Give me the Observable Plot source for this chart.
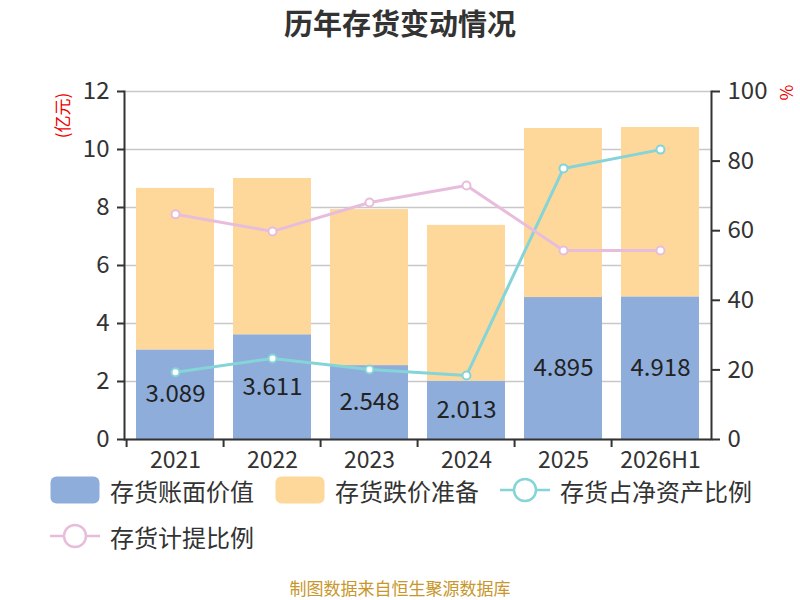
<!DOCTYPE html>
<html><head><meta charset="utf-8">
<script src="https://cdn.jsdelivr.net/npm/d3@7"></script>
<script src="https://cdn.jsdelivr.net/npm/@observablehq/plot@0.6"></script>
<style>
body{margin:0;width:800px;height:600px;background:#fff;font-family:"Noto Sans CJK SC","Noto Sans",sans-serif;overflow:hidden}
#title{height:50px;line-height:44px;text-align:center;font-size:29px;font-weight:bold;color:#333}
#chart svg{overflow:visible;display:block}
#legend{display:flex;flex-wrap:wrap;width:750px;padding-left:50px;box-sizing:content-box}
.item{display:flex;align-items:center;height:46px;margin-right:21px;font-size:24px;color:#333}
.item span{margin-left:10px}
#caption{text-align:center;font-size:17px;line-height:22px;color:#c8962a;margin-top:18px}
</style></head>
<body>
<div id="title">历年存货变动情况</div>
<div id="chart"></div>
<div id="legend"></div>
<div id="caption">制图数据来自恒生聚源数据库</div>
<script>
const years = ["2021","2022","2023","2024","2025","2026H1"];
const bookValue = [3.089,3.611,2.548,2.013,4.895,4.918];
const provision = [5.57,5.39,5.38,5.37,5.83,5.84];
const shareOfNetAssets = [19.3,23.3,20.1,18.4,77.9,83.3];
const provisionRatio = [64.7,59.8,68.1,73.0,54.3,54.3];
const leftTicks = [0,2,4,6,8,10,12];
const rightTicks = [0,20,40,60,80,100];
const seriesNames = ["存货账面价值","存货跌价准备","存货占净资产比例","存货计提比例"];
const colors = ["#8eaddb","#fed89a","#84d4d8","#e8bddc"];

const table = years.map((y,i)=>({year:y, book:bookValue[i], prov:provision[i], share:shareOfNetAssets[i], ratio:provisionRatio[i]}));
const W = 800, H = 417, mL = 124, mR = 89, mT = 41, mB = 28;
const step = (W - mL - mR) / years.length;
const pct = v => v * 12 / 100;
const font = "Noto Sans CJK SC";

const chart = Plot.plot({
  width: W, height: H,
  marginLeft: mL, marginRight: mR, marginTop: mT, marginBottom: mB,
  style: {fontFamily: font, fontSize: "22px", color: "#333", background: "#fff"},
  x: {domain: years, type: "band", paddingInner: 0.2, paddingOuter: 0.1, axis: null, label: null},
  y: {domain: [0, 12], axis: null, label: null},
  marks: [
    Plot.gridY(leftTicks, {stroke: "#c8c8c8", strokeOpacity: 1, strokeWidth: 1.5}),
    Plot.barY(table, {x: "year", y1: 0, y2: "book", fill: colors[0]}),
    Plot.barY(table, {x: "year", y1: "book", y2: d => d.book + d.prov, fill: colors[1]}),
    Plot.text(table, {x: "year", y: d => d.book / 2, text: d => d.book.toFixed(3), fill: "#222", fontSize: 24}),
    Plot.line(table, {x: "year", y: d => pct(d.share), stroke: colors[2], strokeWidth: 3}),
    Plot.dot(table, {x: "year", y: d => pct(d.share), r: 4, fill: "#fff", stroke: colors[2], strokeWidth: 2}),
    Plot.line(table, {x: "year", y: d => pct(d.ratio), stroke: colors[3], strokeWidth: 3}),
    Plot.dot(table, {x: "year", y: d => pct(d.ratio), r: 4, fill: "#fff", stroke: colors[3], strokeWidth: 2}),
    Plot.frame({anchor: "left", stroke: "#333", strokeWidth: 2}),
    Plot.frame({anchor: "right", stroke: "#333", strokeWidth: 2}),
    Plot.ruleY([0], {stroke: "#333", strokeWidth: 2}),
    Plot.axisY(leftTicks, {anchor: "left", label: null, tickSize: 7, tickPadding: 8, stroke: "#333", strokeWidth: 2, fill: "#333", fontSize: 24}),
    Plot.axisY(rightTicks.map(pct), {anchor: "right", label: null, tickSize: 8, tickPadding: 8, stroke: "#333", strokeWidth: 2, fill: "#333", fontSize: 24, tickFormat: d => String(Math.round(d * 100 / 12))}),
    Plot.axisX(years, {anchor: "bottom", label: null, tickSize: 8, dx: -step / 2, stroke: "#333", strokeWidth: 2, tickFormat: () => ""}),
    Plot.axisX(years, {anchor: "bottom", label: null, tickSize: 0, tickPadding: 12, fill: "#333", fontSize: 23}),
    Plot.text(["(亿元)"], {frameAnchor: "top-left", textAnchor: "middle", lineAnchor: "middle", dx: -61, dy: 24, rotate: -90, fill: "#e00", fontSize: 17}),
    Plot.text(["%"], {frameAnchor: "top-right", textAnchor: "middle", lineAnchor: "middle", dx: 74, dy: 1, rotate: 90, fill: "#e00", fontSize: 17})
  ]
});
document.getElementById("chart").appendChild(chart);

const legend = document.getElementById("legend");
seriesNames.forEach((name, i) => {
  const item = document.createElement("div");
  item.className = "item";
  let icon;
  if (i < 2) {
    icon = `<svg width="50" height="28"><rect x="0.5" y="0.5" width="49" height="27" rx="6" fill="${colors[i]}"/></svg>`;
  } else {
    icon = `<svg width="50" height="28"><line x1="0" x2="50" y1="14" y2="14" stroke="${colors[i]}" stroke-width="2.5"/><circle cx="25" cy="14" r="11" fill="#fff" stroke="${colors[i]}" stroke-width="2.5"/></svg>`;
  }
  item.innerHTML = icon + `<span>${name}</span>`;
  legend.appendChild(item);
});
</script>
</body></html>
